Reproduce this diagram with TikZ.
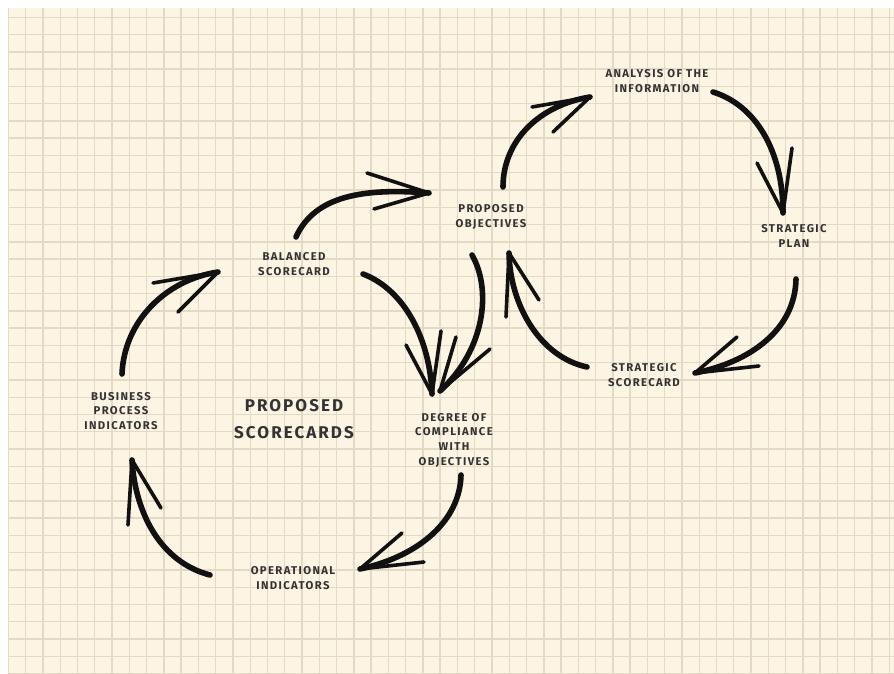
\documentclass[tikz,border=0pt]{standalone}
\usepackage{fontspec}
\setmainfont{Fira Sans}[LetterSpace=12]
\definecolor{paper}{HTML}{FDF5E4}
\definecolor{gridc}{HTML}{E4D9C4}
\definecolor{ink}{HTML}{111111}
\definecolor{txt}{HTML}{333333}
\newcommand\skarrow[6]{%
  \draw[stroke] #1 .. controls #2 and #3 .. #4;
  \draw[barb] #5 -- #4 -- #6;}
\begin{document}
\begin{tikzpicture}[x=1pt,y=-1pt,
  lbl/.style={font=\fontsize{11.3}{14.7}\selectfont\bfseries, text=txt, align=center, inner sep=0pt},
  big/.style={font=\fontsize{17}{27}\selectfont\bfseries, text=txt, align=center, inner sep=0pt},
  stroke/.style={draw=ink, line width=5.6pt, line cap=round},
  barb/.style={draw=ink, line width=3.6pt, line cap=round, line join=round}]
\useasboundingbox (0,0) rectangle (894,674);
\fill[white] (0,0) rectangle (894,674);
\fill[paper] (8,8) rectangle (894,674);
\begin{scope}
  \clip (8,8) rectangle (894,674);
  \foreach \i in {0,...,51} \draw[gridc, line width=1.4pt] ({8.43+17.27*\i},8) -- ++(0,666);
  \foreach \j in {0,...,38} \draw[gridc, line width=1.4pt] (8,{17.3+17.27*\j}) -- ++(886,0);
\end{scope}

% text nodes
\node[lbl] (ana) at (657,81) {ANALYSIS OF THE\\INFORMATION};
\node[lbl] (pobj) at (491,217) {PROPOSED\\OBJECTIVES};
\node[lbl] (splan) at (794,236) {STRATEGIC\\PLAN};
\node[lbl] (bsc) at (294,264) {BALANCED\\SCORECARD};
\node[lbl] (ssc) at (644,375) {STRATEGIC\\SCORECARD};
\node[lbl] (bpi) at (121,411) {BUSINESS\\PROCESS\\INDICATORS};
\node[big] (psc) at (294,419) {PROPOSED\\SCORECARDS};
\node[lbl] (deg) at (454,440) {DEGREE OF\\COMPLIANCE\\WITH\\OBJECTIVES};
\node[lbl] (opi) at (293,578) {OPERATIONAL\\INDICATORS};

% arrow end points
\coordinate (s1) at (503,187); \coordinate (e1) at (590,97);
\coordinate (s2) at (713,92);  \coordinate (e2) at (783,213);
\coordinate (s3) at (796,279); \coordinate (e3) at (695,373);
\coordinate (s4) at (587,367); \coordinate (e4) at (509,253);
\coordinate (s5) at (296,237); \coordinate (e5) at (429,193);
\coordinate (s6) at (363,274); \coordinate (e6) at (432,394);
\coordinate (s7) at (472,255); \coordinate (e7) at (440,391);
\coordinate (s8) at (461,475); \coordinate (e8) at (360,569);
\coordinate (s9) at (210,575); \coordinate (e9) at (132,460);
\coordinate (s10) at (122,374); \coordinate (e10) at (218,272);

\skarrow{(s1)}{(503,140)}{(540,105)}{(e1)}{(532,107)}{(553,132)}
\skarrow{(s2)}{(755,105)}{(783,150)}{(e2)}{(757,163)}{(792,148)}
\skarrow{(s3)}{(795,330)}{(750,362)}{(e3)}{(737,337)}{(759,366)}
\skarrow{(s4)}{(540,357)}{(510,305)}{(e4)}{(506,317)}{(539,300)}
\skarrow{(s5)}{(315,195)}{(365,188)}{(e5)}{(367,173)}{(374,209)}
\skarrow{(s6)}{(405,290)}{(430,340)}{(e6)}{(406,345)}{(441,331)}
\skarrow{(s7)}{(492,290)}{(485,350)}{(e7)}{(456,337)}{(490,349)}
\skarrow{(s8)}{(460,520)}{(420,556)}{(e8)}{(402,533)}{(424,562)}
\skarrow{(s9)}{(160,562)}{(135,512)}{(e9)}{(128,525)}{(161,508)}
\skarrow{(s10)}{(124,322)}{(165,280)}{(e10)}{(153,283)}{(178,312)}
\end{tikzpicture}
\end{document}
